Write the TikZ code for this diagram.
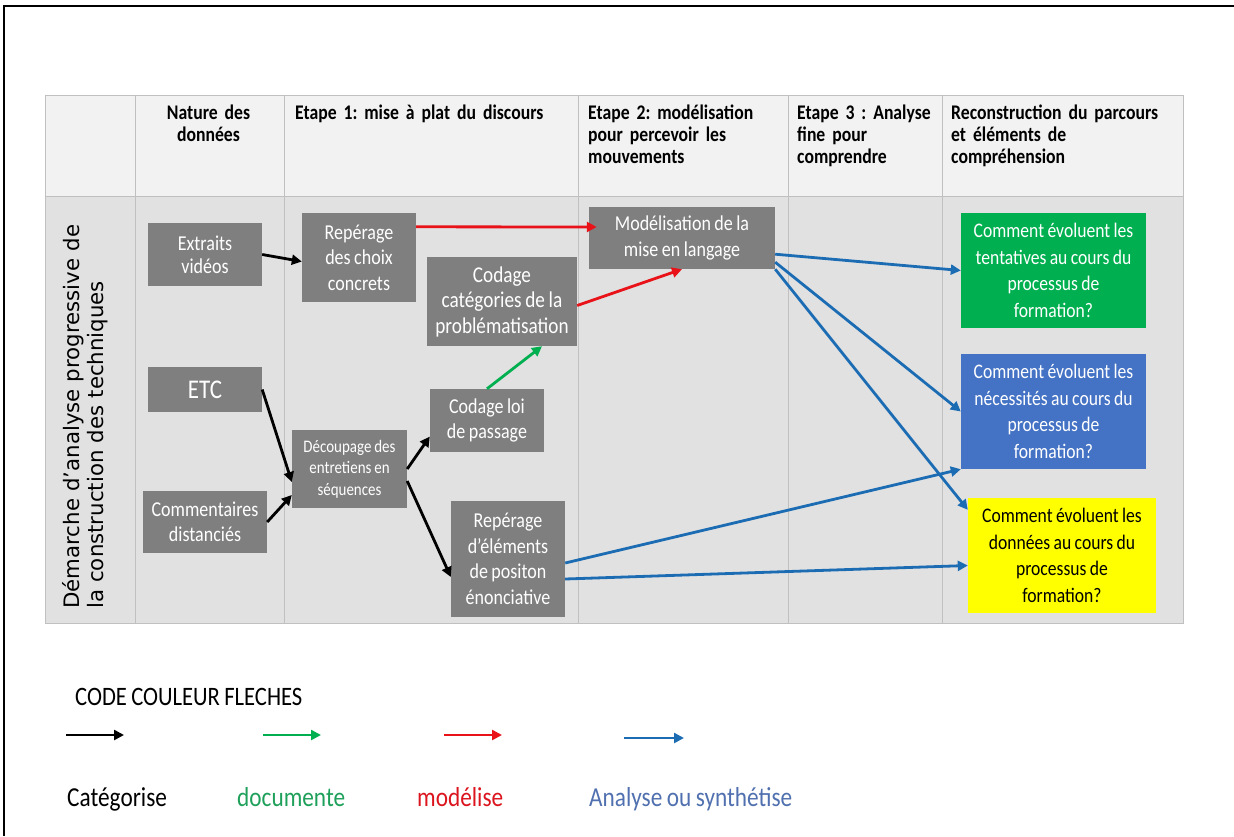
\documentclass[tikz,border=0pt]{standalone}
\usepackage{fontspec}
\setmainfont{Carlito}[FakeStretch=0.85,WordSpace=0.85]
\newfontfamily\dejavu{DejaVu Sans}
\usetikzlibrary{arrows.meta,calc}
\frenchspacing
\definecolor{hdrbg}{RGB}{242,242,242}
\definecolor{bodybg}{RGB}{225,225,225}
\definecolor{gridc}{RGB}{192,192,192}
\definecolor{nodegrey}{RGB}{127,127,127}
\definecolor{qgreen}{RGB}{0,176,80}
\definecolor{qblue}{RGB}{68,114,196}
\definecolor{qyellow}{RGB}{255,255,0}
\definecolor{agreen}{RGB}{0,176,80}
\definecolor{ared}{RGB}{232,18,24}
\definecolor{ablue}{RGB}{28,108,180}
\definecolor{lgreen}{RGB}{30,160,90}
\definecolor{lred}{RGB}{220,20,30}
\definecolor{lblue}{RGB}{80,112,175}
\begin{document}
\begin{tikzpicture}[x=1pt,y=-1pt,
  gbox/.style={fill=nodegrey,text=white,align=center,inner sep=0pt,font=\fontsize{21.2}{25.5}\selectfont},
  qbox/.style={align=center,inner sep=0pt,minimum width=185pt,minimum height=115pt,font=\fontsize{20.7}{26.5}\selectfont},
  hdr/.style={anchor=base west,align=left,inner sep=0pt,text width=280pt,font=\bfseries\fontsize{20.8}{22}\selectfont},
  arr/.style={line width=2.8pt,-{Triangle[length=10pt,width=10pt]}},
  leg/.style={anchor=base west,inner sep=0pt,font=\fontsize{27.4}{30}\selectfont}
]
\useasboundingbox (0,0) rectangle (1234,836);
% frame
\draw[line width=2pt] (4,836) -- (4,6) -- (1234,6);
% table
\fill[hdrbg] (45,95) rectangle (1183,196);
\fill[bodybg] (45,196) rectangle (1183,623);
\draw[gridc,line width=1pt] (45,95) rectangle (1183,623);
\draw[gridc,line width=1pt] (45,196) -- (1183,196);
\foreach \xx in {135,284,578,788,942} \draw[gridc,line width=1pt] (\xx,95) -- (\xx,623);
% headers
\node[anchor=base,align=center,inner sep=0pt,text width=140pt,font=\bfseries\fontsize{20.8}{22}\selectfont] (h1) at (208.5,119) {Nature des\\données};
\node[hdr] (h2) at (295,119) {Etape 1: mise à plat du discours};
\node[hdr] (h3) at (588,119) {Etape 2: modélisation\\pour percevoir les\\mouvements};
\node[hdr] (h4) at (797,119) {Etape 3 : Analyse\\fine pour\\comprendre};
\node[hdr] (h5) at (951,119) {Reconstruction du parcours\\et éléments de\\compréhension};
% vertical title
\node[rotate=90,anchor=base west,align=left,inner sep=0pt,text width=420pt,font=\dejavu\fontsize{21.3}{24}\selectfont] (vt) at (79,609) {Démarche d’analyse progressive de\\la construction des techniques};
% grey nodes
\node[gbox,minimum width=114pt,minimum height=63pt,font=\fontsize{21.2}{23}\selectfont] (extr) at (205,254.5) {Extraits\\vidéos};
\node[gbox,minimum width=114pt,minimum height=45pt,font=\fontsize{27}{30}\selectfont] (etc) at (205,389.5) {ETC};
\node[gbox,minimum width=124pt,minimum height=62pt] (comm) at (205,522) {Commentaires\\distanciés};
\node[gbox,minimum width=114pt,minimum height=89pt] (rep1) at (359,257.5) {Repérage\\des choix\\concrets};
\node[gbox,minimum width=150pt,minimum height=89pt,font=\fontsize{22.6}{25.5}\selectfont] (codcat) at (502,301.5) {Codage\\catégories de la\\problématisation};
\node[gbox,minimum width=114pt,minimum height=63pt] (codloi) at (487,420.5) {Codage loi\\de passage};
\node[gbox,minimum width=115pt,minimum height=78pt,font=\fontsize{17.6}{21.5}\selectfont] (decoup) at (349.5,469) {Découpage des\\entretiens en\\séquences};
\node[gbox,minimum width=114pt,minimum height=116pt] (rep2) at (508,559) {Repérage\\d’éléments\\de positon\\énonciative};
\node[gbox,minimum width=186pt,minimum height=62pt] (mod) at (682,238) {Modélisation de la\\mise en langage};
% question boxes
\node[qbox,fill=qgreen,text=white] (qg) at (1053.5,270.5) {Comment évoluent les\\tentatives au cours du\\processus de\\formation?};
\node[qbox,fill=qblue,text=white] (qb) at (1053.5,411.5) {Comment évoluent les\\nécessités au cours du\\processus de\\formation?};
\node[qbox,fill=qyellow,text=black,minimum width=188pt] (qy) at (1062,555.5) {Comment évoluent les\\données au cours du\\processus de\\formation?};
% black arrows
\draw[arr,black] (extr.east) -- ($(rep1.west)+(0,4)$);
\draw[arr,black] (etc.east) -- ($(decoup.west)+(0,13)$);
\draw[arr,black] (comm.east) -- ($(decoup.west)+(0,26)$);
\draw[arr,black] (decoup.east) -- ($(codloi.west)+(0,16)$);
\draw[arr,black] ($(decoup.east)+(0,12)$) -- ($(rep2.west)+(0,18)$);
% green arrow
\draw[arr,agreen] (codloi.north) -- ($(codcat.south)+(40,0)$);
% red arrows
\draw[arr,ared] ($(rep1.north east)+(0,14)$) -- ($(mod.west)+(8,-11)$);
\draw[arr,ared] ($(codcat.east)+(0,4)$) -- (mod.south);
% blue arrows
\draw[arr,ablue] ($(mod.south east)+(0,-15)$) -- (qg.west);
\draw[arr,ablue] ($(mod.south east)+(0,-7)$) -- (qb.west);
\draw[arr,ablue] (mod.south east) -- ($(qy.north west)+(0,12)$);
\draw[arr,ablue] ($(rep2.east)+(0,4)$) -- (qb.south west);
\draw[arr,ablue] ($(rep2.east)+(0,20)$) -- ($(qy.west)+(0,10)$);
% legend
\node[leg,font=\fontsize{26.6}{30}\selectfont] (legt) at (75,705) {CODE COULEUR FLECHES};
\coordinate (l1a) at (66,735); \coordinate (l1b) at (124,735);
\coordinate (l2a) at (263,735); \coordinate (l2b) at (321,735);
\coordinate (l3a) at (444,735); \coordinate (l3b) at (502,735);
\coordinate (l4a) at (624,738); \coordinate (l4b) at (684,738);
\draw[arr,black] (l1a) -- (l1b);
\draw[arr,agreen] (l2a) -- (l2b);
\draw[arr,ared] (l3a) -- (l3b);
\draw[arr,ablue] (l4a) -- (l4b);
\node[leg] (lab1) at (67,806) {Catégorise};
\node[leg,text=lgreen] (lab2) at (237,806) {documente};
\node[leg,text=lred] (lab3) at (417,806) {modélise};
\node[leg,text=lblue] (lab4) at (589,806) {Analyse ou synthétise};
\end{tikzpicture}
\end{document}
